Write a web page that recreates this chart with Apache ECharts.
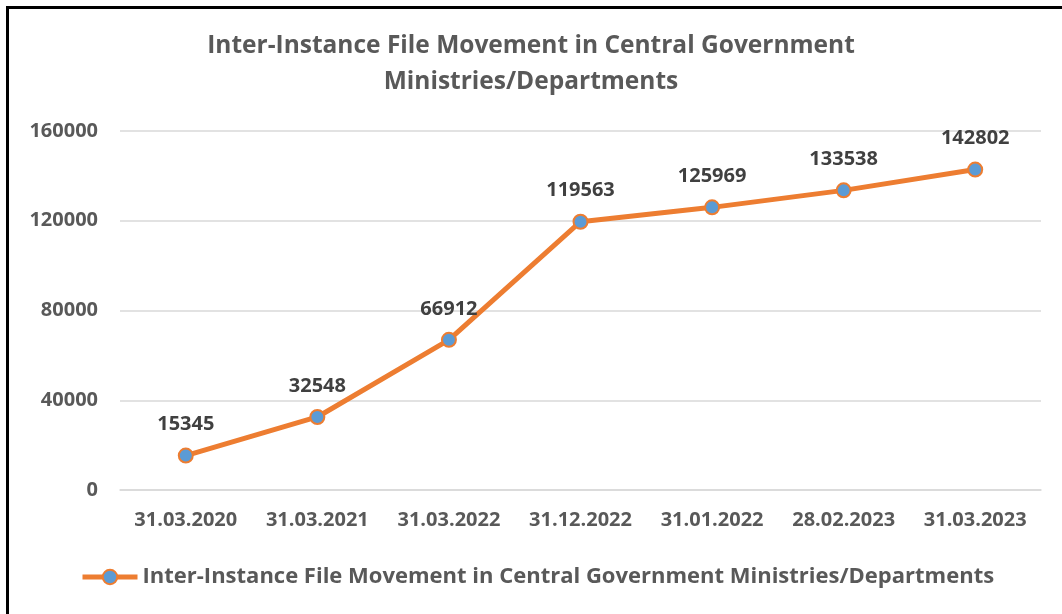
<!DOCTYPE html>
<html><head><meta charset="utf-8">
<script src="https://cdn.jsdelivr.net/npm/echarts@6/dist/echarts.min.js"></script>
<style>
html,body{margin:0;padding:0;background:#fff;}
#wrap{position:relative;width:1062px;height:614px;overflow:hidden;}
#chart{position:absolute;left:0;top:0;width:1062px;height:614px;}
#frame{position:absolute;left:6px;top:6px;width:1100px;height:700px;border-top:3px solid #000;border-left:3px solid #000;pointer-events:none;}
</style></head>
<body>
<div id="wrap"><div id="chart"></div><div id="frame"></div></div>
<script>
const categories = ['31.03.2020','31.03.2021','31.03.2022','31.12.2022','31.01.2022','28.02.2023','31.03.2023'];
const values = [15345, 32548, 66912, 119563, 125969, 133538, 142802];
const yTicks = [0, 40000, 80000, 120000, 160000];
const seriesName = 'Inter-Instance File Movement in Central Government Ministries/Departments';
const titleText = 'Inter-Instance File Movement in Central Government\nMinistries/Departments';

const FONT = 'Open Sans';
const chart = echarts.init(document.getElementById('chart'), null, {renderer:'canvas'});
chart.setOption({
  backgroundColor: 'transparent',
  animation: false,
  title: {
    text: titleText,
    left: 'center', top: 23,
    textStyle: {fontFamily: FONT, fontWeight: 'bold', fontSize: 24.5, color: '#595959', lineHeight: 36}
  },
  legend: {
    left: 75, top: 561,
    itemWidth: 55, itemHeight: 18, itemGap: 10,
    lineStyle: {width: 5},
    textStyle: {fontFamily: FONT, fontWeight: 'bold', fontSize: 22, color: '#595959'},
    data: [seriesName]
  },
  grid: {left: 120, right: 21, top: 131, bottom: 124, containLabel: false},
  xAxis: {
    type: 'category', data: categories, boundaryGap: true,
    axisLine: {lineStyle: {color: '#d9d9d9', width: 1.5}},
    axisTick: {show: false},
    axisLabel: {interval: 0, fontFamily: FONT, fontWeight: 'bold', fontSize: 20, color: '#595959', margin: 20}
  },
  yAxis: {
    type: 'value', min: yTicks[0], max: yTicks[yTicks.length-1], interval: 40000,
    axisLine: {show: false}, axisTick: {show: false},
    splitLine: {lineStyle: {color: '#d9d9d9', width: 1.5}},
    axisLabel: {fontFamily: FONT, fontWeight: 'bold', fontSize: 20, color: '#595959', margin: 22,
      formatter: v => String(v)}
  },
  series: [{
    name: seriesName, type: 'line', data: values,
    lineStyle: {color: '#ED7D31', width: 5},
    symbol: 'circle', symbolSize: 14,
    itemStyle: {color: '#5B9BD5', borderColor: '#ED7D31', borderWidth: 2},
    label: {show: true, position: 'top', distance: 13, fontFamily: FONT, fontWeight: 'bold', fontSize: 20, color: '#404040'}
  }]
});
</script>
</body></html>
